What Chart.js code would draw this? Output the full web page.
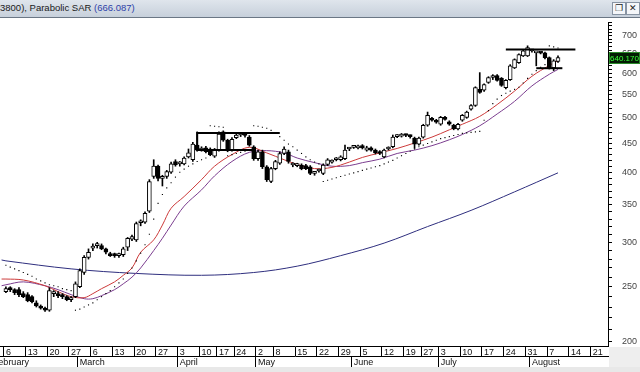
<!DOCTYPE html>
<html>
<head>
<meta charset="utf-8">
<script src="https://cdn.jsdelivr.net/npm/chart.js@4.4.0/dist/chart.umd.min.js"></script>
<style>
  html, body { margin: 0; padding: 0; width: 640px; height: 372px; overflow: hidden; background: #fff; position: relative; font-family: "Liberation Sans", Arial, sans-serif; }
  #title { position: absolute; left: 0; top: 0; width: 640px; height: 17px; background: linear-gradient(#dfe5ec, #c7d0db); border-bottom: 1px solid #6b7785; font-size: 9.5px; line-height: 16px; color: #1a1a1a; white-space: nowrap; }
  #title .v { color: #2d3fa8; }
  .btn { position: absolute; top: 2px; width: 12px; height: 11px; border: 1px solid #8894a3; background: #f4f6f9; font-size: 9px; line-height: 11px; text-align: center; color: #222; }
  #wrap { position: absolute; left: -22px; top: 18px; width: 662px; height: 349px; }
  #corner { position: absolute; left: 609px; top: 347px; width: 31px; height: 25px; background: #eeeeee; }
  #foot { position: absolute; left: 0; top: 367px; width: 640px; height: 5px; background: #e8e8e8; }
</style>
</head>
<body>
<div id="title">3800), Parabolic SAR <span class="v">(666.087)</span>
  <div class="btn" style="left:612px">❐</div><div class="btn" style="left:626px">✕</div>
</div>
<div id="wrap"><canvas id="chart" width="662" height="349"></canvas></div>
<div id="corner"></div>
<div id="foot"></div>
<script>
// trading days (2017), the first week sits just left of the window
const dates = [
  '01-30','01-31','02-01','02-02','02-03',
  '02-06','02-07','02-08','02-09','02-10',
  '02-13','02-14','02-15','02-16','02-17',
  '02-20','02-21','02-22','02-23','02-24',
  '02-27','02-28','03-01','03-02','03-03',
  '03-06','03-07','03-08','03-09','03-10',
  '03-13','03-14','03-15','03-16','03-17',
  '03-20','03-21','03-22','03-23','03-24',
  '03-27','03-28','03-29','03-30','03-31',
  '04-03','04-04','04-05','04-06','04-07',
  '04-10','04-11','04-12','04-13',
  '04-17','04-18','04-19','04-20',
  '04-24','04-25','04-26','04-27','04-28',
  '05-02','05-03','05-04','05-05',
  '05-08','05-09','05-10','05-11','05-12',
  '05-15','05-16','05-17','05-18','05-19',
  '05-22','05-23','05-24','05-25','05-26',
  '05-29','05-30','05-31','06-01','06-02',
  '06-05','06-06','06-07','06-08','06-09',
  '06-12','06-13','06-14','06-15','06-16',
  '06-19','06-20','06-21','06-22',
  '06-27','06-28','06-29','06-30',
  '07-03','07-04','07-05','07-06','07-07',
  '07-10','07-11','07-12','07-13','07-14',
  '07-17','07-18','07-19','07-20','07-21',
  '07-24','07-25','07-26','07-27','07-28',
  '07-31','08-01','08-02','08-03','08-04',
  '08-07','08-08','08-09','08-10','08-11',
  '08-14','08-15','08-16','08-17','08-18',
  '08-21','08-22','08-23','08-24'
];
const monthNames = ['January','February','March','April','May','June','July','August','September'];
const firstCandle = '02-06';

// candles from 02-06 to 08-09
const open = [245,248,247,247,243,242,240,234,231,229, 227,243,243,242,240,237,240,250,265,282,
  293,296,296,292,286,285,284,285,294,304, 303,325,326,341,393,410,390,393,400,418,
  414,414,426,421,447,438,442,440,427,438, 472,456,438,461,466,466,462,444,423,435,
  409,385,406,415,432,435,412,411,412,411, 409,398,402,398,413,417,421,421,423,440,
  443,442,446,438,442,438,435,426,440,444, 463,464,466,465,460,449,462,485,499,495,
  487,501,492,485,478,495,501,518,526,562, 560,578,590,595,588,566,585,614,627,645,
  645,658,653,653,653,640,614,630];
const high = [250,250,248,249,245,244,241,236,232,230, 249,246,245,243,241,240,255,269,284,292,
  298,300,298,293,288,287,287,294,306,309, 326,329,340,388,421,412,395,403,417,421,
  418,426,440,452,472,444,445,442,441,472, 474,458,461,469,470,469,465,446,438,438,
  411,408,420,435,444,438,416,415,414,413, 411,401,405,414,423,421,425,428,447,443,
  446,447,448,445,444,440,437,440,444,466, 467,469,468,466,462,462,487,512,501,497,
  503,503,494,487,489,507,514,528,568,602, 575,592,597,597,590,585,622,637,650,660,
  672,662,656,655,655,642,635,645];
const low = [244,245,242,240,239,235,234,230,228,226, 226,240,239,238,236,235,239,249,263,280,
  290,293,291,286,283,282,282,283,290,302, 301,321,324,339,390,386,378,390,398,410,
  410,412,424,418,436,436,433,428,425,436, 454,435,436,459,463,462,445,420,420,406,
  385,383,404,413,430,415,409,409,404,404, 396,395,400,396,411,415,419,419,421,437,
  441,440,440,436,436,431,430,424,438,442, 461,462,463,460,441,447,460,483,493,489,
  485,495,485,476,476,493,499,516,524,553, 557,576,585,581,569,563,583,612,625,643,
  643,655,619,650,637,611,607,628];
const close = [248,247,244,242,240,236,235,231,229,227, 246,244,241,240,237,239,253,267,282,288,
  294,297,292,288,284,284,285,292,305,307, 324,326,338,385,410,390,393,401,414,412,
  415,424,433,449,438,441,435,430,438,468, 456,438,458,466,467,465,447,423,435,409,
  388,406,418,432,440,418,413,413,406,406, 398,399,403,412,421,419,422,426,438,441,
  444,445,442,442,438,433,432,438,442,462, 464,467,465,463,449,460,485,505,495,491,
  501,497,487,478,487,505,512,526,566,555, 573,590,592,583,571,583,619,635,648,658,
  667,659,654,652,640,614,632,640.17];

// parabolic SAR dots, same days as the candles
const sar = [273,271,269,267,265,263,261,258,256,254,252,251,250,248,247,246,
  227,228,230,232,234,237,240,243,246,250,254,258,264,270,278,287,297,310,330,352,
  365,375,383,392,400,405,410,414,418,
  421,424,
  484,483,482,481,
  428,430,432,434,436,438,
  484,483,481,479,475,470,463,456,449,444,438,432,426,421,417,414,
  385,387,389,391,393,395,397,399,401,403,405,407,409,411,414,417,420,424,428,432,
  436,440,444,447,450,453,456,459,461,463,465,467,469,470,471,472,473,495,515,530,
  540,548,553,558,562,567,577,588,598,607,615,622,
  672,669,666];

// moving averages
const maDays = ['02-03','02-06','02-10','02-17','02-22','02-27','03-02','03-06','03-08','03-13',
  '03-15','03-17','03-21','03-24','03-28','03-30','04-04','04-10','04-13','04-20',
  '04-27','05-04','05-10','05-15','05-19','05-25','05-31','06-05','06-09','06-15',
  '06-21','06-29','07-05','07-10','07-14','07-20','07-26','08-01','08-07','08-09'];
const redMA = [258,258,257,251,245,240,239,243,248,255,
  262,270,288,303,322,345,362,388,410,430,
  443,433,421,413,406,408,417,425,433,441,
  451,462,476,487,503,528,558,593,620,632];
const purpleMA = [251,252,255,251,247,242,238,238,241,247,
  253,260,270,290,305,322,348,372,394,418,
  434,437,433,424,416,410,411,416,422,432,
  438,446,457,467,484,508,535,570,598,610];
const longDays = ['02-03','02-06','02-27','03-20','04-10','04-28','05-15','05-29','06-12','06-28','07-12','07-26','08-09'];
const longMA = [279,278,269,264,262,265,272,284,299,320,342,369,399];

// drawn range lines
const aprRange = [['04-28', 438], ['04-07', 438], ['04-07', 470], ['05-09', 470]];
const augTop = [['07-24', 662], ['08-15', 662]];
const augLow = [['08-02', 613], ['08-10', 613]];

const yLabels = [200, 250, 300, 350, 400, 450, 500, 550, 600, 650, 700];

function toDate(d) { return new Date(2017, +d.slice(0, 2) - 1, +d.slice(3)); }
const weekStart = dates.map((d, i) => i === 0 || toDate(d).getDay() < toDate(dates[i - 1]).getDay());
const monthStart = dates.map((d, i) => i > 0 && d.slice(0, 2) !== dates[i - 1].slice(0, 2));

const pad = dates.indexOf(firstCandle);
const fill = (arr) => Array(pad).fill(null).concat(arr, Array(dates.length - pad - arr.length).fill(null));
const wickData = fill(low.map((l, i) => [l, high[i]]));
const bodyData = fill(open.map((o, i) => [Math.min(o, close[i]), Math.max(o, close[i])]));
const bodyColor = fill(open.map((o, i) => close[i] >= o ? '#ffffff' : '#000000'));
const sarData = fill(sar);
const pairs = (arr) => arr.map(([d, v]) => ({ x: d, y: v }));

const yTicks = [];
for (let v = 200; v <= 740; v += 10) yTicks.push(v);

Chart.defaults.font.family = '"Liberation Sans", Arial, sans-serif';

const lastPrice = {
  id: 'lastPrice',
  afterDraw(chart) {
    const ys = chart.scales.y;
    const v = close[close.length - 1];
    const py = Math.round(ys.getPixelForValue(v));
    const ctx = chart.ctx;
    ctx.save();
    ctx.fillStyle = '#031c03';
    ctx.fillRect(ys.left + 1, py - 6, ys.width - 1, 12);
    ctx.strokeStyle = '#2a8a2a';
    ctx.strokeRect(ys.left + 1.5, py - 5.5, ys.width - 2, 11);
    ctx.fillStyle = '#39ff39';
    ctx.font = '8px "Liberation Sans"';
    ctx.textBaseline = 'middle';
    ctx.fillText(v.toFixed(3), ys.left + 2, py + 0.5);
    ctx.restore();
  }
};

new Chart(document.getElementById('chart'), {
  type: 'bar',
  data: {
    labels: dates,
    datasets: [
      { type: 'line', data: pairs(aprRange), borderColor: '#000', borderWidth: 2, pointRadius: 0, order: 0 },
      { type: 'line', data: pairs(augTop), borderColor: '#000', borderWidth: 2, pointRadius: 0, order: 0 },
      { type: 'line', data: pairs(augLow), borderColor: '#000', borderWidth: 2, pointRadius: 0, order: 0 },
      { type: 'line', data: sarData, showLine: false, pointStyle: 'rect', pointRadius: 0.8,
        pointBackgroundColor: '#000', pointBorderWidth: 0, order: 0 },
      { type: 'bar', data: bodyData, backgroundColor: bodyColor, borderColor: '#000', borderWidth: 1,
        borderSkipped: false, barThickness: 4, minBarLength: 2, grouped: false, order: 1 },
      { type: 'bar', data: wickData, backgroundColor: '#000', barThickness: 1, grouped: false, order: 2 },
      { type: 'line', data: maDays.map((d, i) => ({ x: d, y: redMA[i] })), borderColor: '#cc3a3a',
        borderWidth: 1, pointRadius: 0, tension: 0.35, order: 3 },
      { type: 'line', data: maDays.map((d, i) => ({ x: d, y: purpleMA[i] })), borderColor: '#7b3d8f',
        borderWidth: 1, pointRadius: 0, tension: 0.35, order: 3 },
      { type: 'line', data: longDays.map((d, i) => ({ x: d, y: longMA[i] })), borderColor: '#2e2e7e',
        borderWidth: 1, pointRadius: 0, tension: 0.35, order: 3 }
    ]
  },
  options: {
    responsive: false,
    animation: false,
    devicePixelRatio: 1,
    layout: { padding: { top: 1, left: 0, right: 0, bottom: 0 } },
    plugins: { legend: { display: false }, tooltip: { enabled: false } },
    scales: {
      x: {
        type: 'category', position: 'bottom', offset: true, weight: 0,
        afterFit: s => { s.height = 10; s.paddingLeft = 0; s.paddingRight = 0; },
        grid: { offset: true, drawOnChartArea: false, tickLength: 10,
          color: c => weekStart[c.index] ? '#000' : 'rgba(0,0,0,0)' },
        border: { display: true, color: '#000' },
        ticks: { autoSkip: false, maxRotation: 0, minRotation: 0, align: 'start', padding: -9,
          font: { size: 9 }, color: '#111',
          callback: (v, i) => weekStart[i] ? String(+dates[i].slice(3)) : '' }
      },
      x2: {
        type: 'category', position: 'bottom', offset: true, weight: 1,
        afterFit: s => { s.height = 11; s.paddingLeft = 0; s.paddingRight = 0; },
        grid: { offset: true, drawOnChartArea: false, tickLength: 11,
          color: c => monthStart[c.index] ? '#000' : 'rgba(0,0,0,0)' },
        border: { display: true, color: '#000' },
        ticks: { autoSkip: false, maxRotation: 0, minRotation: 0, align: 'start', padding: -10,
          font: { size: 9 }, color: '#111',
          callback: (v, i) => monthStart[i] ? monthNames[+dates[i].slice(0, 2) - 1] : '' }
      },
      y: {
        type: 'logarithmic', position: 'right', min: 196, max: 741, bounds: 'data',
        afterBuildTicks: s => { s.ticks = yTicks.map(v => ({ value: v })); },
        afterFit: s => { s.width = 32; s.paddingTop = 0; s.paddingBottom = 0; },
        grid: { drawOnChartArea: false, tickLength: 4, color: '#000' },
        border: { display: true, color: '#000' },
        ticks: { autoSkip: false, padding: 10, font: { size: 9 }, color: '#444',
          callback: v => yLabels.includes(v) ? String(v) : '' }
      }
    }
  },
  plugins: [lastPrice]
});
</script>
</body>
</html>
